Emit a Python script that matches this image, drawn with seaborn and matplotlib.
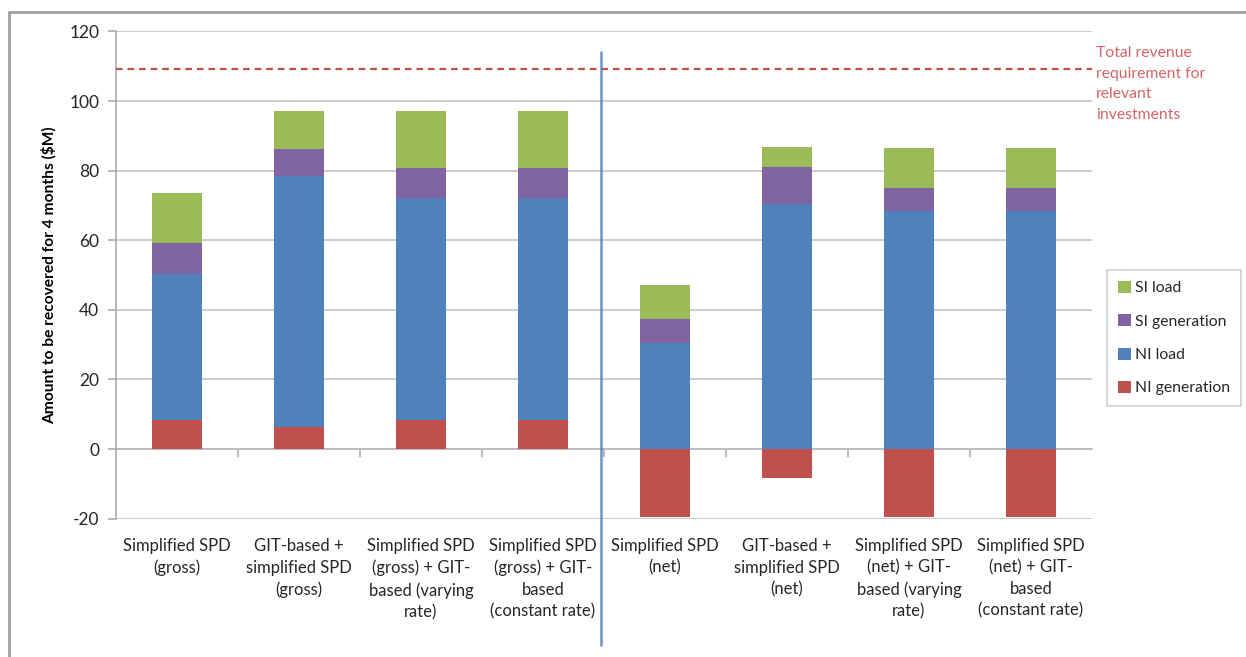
import matplotlib
matplotlib.use("Agg")
import matplotlib.pyplot as plt
from matplotlib.lines import Line2D
from matplotlib.patches import Patch
import numpy as np
import pandas as pd
import seaborn as sns

# Scenario labels (gross-based on the left, net-based on the right)
categories = [
    "Simplified SPD\n(gross)",
    "GIT-based +\nsimplified SPD\n(gross)",
    "Simplified SPD\n(gross) + GIT-\nbased (varying\nrate)",
    "Simplified SPD\n(gross) + GIT-\nbased\n(constant rate)",
    "Simplified SPD\n(net)",
    "GIT-based +\nsimplified SPD\n(net)",
    "Simplified SPD\n(net) + GIT-\nbased (varying\nrate)",
    "Simplified SPD\n(net) + GIT-\nbased\n(constant rate)",
]

# Component amounts ($M over 4 months)
ni_generation = [8.4, 6.2, 8.4, 8.4, -19.6, -8.2, -19.6, -19.6]
ni_load = [41.8, 72.2, 63.6, 63.6, 30.6, 70.4, 68.4, 68.4]
si_generation = [8.9, 7.8, 8.8, 8.8, 6.7, 10.6, 6.6, 6.6]
si_load = [14.5, 10.9, 16.3, 16.3, 9.8, 5.8, 11.5, 11.5]

revenue_requirement = 109.2
y_ticks = [-20, 0, 20, 40, 60, 80, 100, 120]

series_names = ["NI generation", "NI load", "SI generation", "SI load"]
series_values = [ni_generation, ni_load, si_generation, si_load]
colors = {
    "NI generation": "#C0504D",
    "NI load": "#4F81BD",
    "SI generation": "#8064A2",
    "SI load": "#9BBB59",
}

font = ["Lato", "DejaVu Sans"]
sns.set_theme(style="white")
plt.rcParams["font.family"] = font
plt.rcParams["axes.unicode_minus"] = False
text_color = "#262626"

fig = plt.figure(figsize=(12.46, 6.57), dpi=100)
ax = fig.add_axes([116 / 1246, 1 - 518.6 / 657, (1092 - 116) / 1246, (518.6 - 31.4) / 657])

# Stack positive segments upward from zero; negative ones hang below zero
pos_base = np.zeros(len(categories))
neg_base = np.zeros(len(categories))
for name, vals in zip(series_names, series_values):
    vals = np.asarray(vals, dtype=float)
    bottoms = np.where(vals >= 0, pos_base, neg_base)
    df = pd.DataFrame({"scenario": categories, "value": vals})
    sns.barplot(data=df, x="scenario", y="value", bottom=bottoms, color=colors[name],
                width=0.41, saturation=1, linewidth=0, ax=ax, zorder=3)
    pos_base = np.where(vals >= 0, pos_base + vals, pos_base)
    neg_base = np.where(vals < 0, neg_base + vals, neg_base)

ax.set_xlim(-0.5, len(categories) - 0.5)
ax.set_ylim(-20, 120)
ax.set_yticks(y_ticks)
ax.yaxis.grid(True, color="#BEBEBE", linewidth=1.1, zorder=0)
ax.set_axisbelow(True)
for side in ["top", "right", "bottom"]:
    ax.spines[side].set_visible(False)
ax.spines["left"].set_color("#A6A6A6")
ax.spines["left"].set_linewidth(1.1)
ax.tick_params(axis="y", length=6, width=1.1, color="#A6A6A6", labelsize=12.5,
               labelcolor=text_color, pad=6, left=True)
ax.tick_params(axis="x", length=0, labelsize=12, labelcolor=text_color, pad=14)
ax.set_xlabel("")
ax.set_ylabel("Amount to be recovered for 4 months ($M)", fontsize=11.2,
              fontweight="bold", color="#000000", labelpad=9)
for lbl in ax.get_xticklabels():
    lbl.set_linespacing(1.42)

# Category axis at zero with boundary ticks
zero_axis = ax.secondary_xaxis(0, transform=ax.transData)
zero_axis.set_xticks(np.arange(len(categories) - 1) + 0.5)
zero_axis.set_xticklabels([])
zero_axis.tick_params(length=6, width=1.1, color="#A6A6A6", direction="out")
zero_axis.spines["bottom"].set_color("#A6A6A6")
zero_axis.spines["bottom"].set_linewidth(1.1)

# Revenue requirement reference
ax.axhline(revenue_requirement, color="#C0504D", linestyle=(0, (3, 2.2)), linewidth=1.6, zorder=4)
fig.text(1096 / 1246, 1 - 46 / 657,
         "Total revenue\nrequirement for\nrelevant\ninvestments",
         color="#D46565", fontsize=11.3, va="top", ha="left", linespacing=1.6)

# Divider between gross and net scenarios
fig.add_artist(Line2D([601 / 1246, 601 / 1246], [1 - 52 / 657, 1 - 645 / 657],
                      color="#4F81BD", linewidth=1.8, alpha=0.85))

# Legend
handles = [Patch(facecolor=colors[n], edgecolor="none") for n in reversed(series_names)]
leg = fig.legend(handles, list(reversed(series_names)), loc="upper left",
                 bbox_to_anchor=(1107 / 1246, 1 - 270 / 657), fontsize=11.3,
                 frameon=True, fancybox=False, handlelength=0.8, handleheight=0.8,
                 handletextpad=0.3, labelspacing=1.2, borderpad=0.7, borderaxespad=0)
leg.get_frame().set_edgecolor("#BEBEBE")
leg.get_frame().set_linewidth(1.1)
for t in leg.get_texts():
    t.set_color(text_color)

# Chart frame edges
fig.add_artist(Line2D([9 / 1246, 1.0], [1 - 12 / 657, 1 - 12 / 657], color="#A0A0A0", linewidth=2))
fig.add_artist(Line2D([9 / 1246, 9 / 1246], [1 - 12 / 657, 0.0], color="#A0A0A0", linewidth=2))

fig.savefig("out.png", dpi=100)
